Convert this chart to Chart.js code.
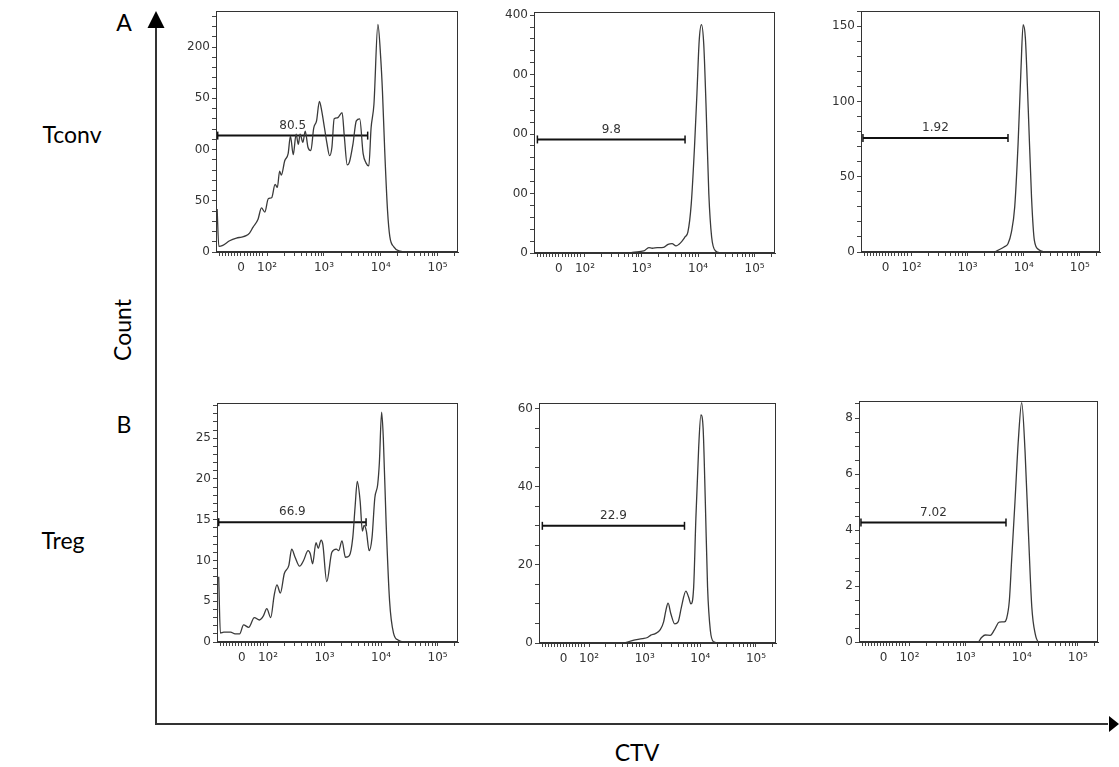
<!DOCTYPE html>
<html>
<head>
<meta charset="utf-8">
<script src="https://cdn.jsdelivr.net/npm/chart.js@4.4.1/dist/chart.umd.min.js"></script>
<style>
  body { margin: 0; background: #fff; }
  #fig { position: relative; width: 1119px; height: 767px; overflow: hidden; font-family: Lato, "Open Sans", sans-serif; }
  .lbl { position: absolute; font-size: 23px; color: #000; line-height: 1; white-space: nowrap; transform: translate(-50%, -50%); }
  canvas { position: absolute; }
</style>
</head>
<body>
<div id="fig">
  <svg width="1119" height="767" style="position:absolute;left:0;top:0">
    <line x1="156" y1="725" x2="156" y2="24" stroke="#333" stroke-width="2"/>
    <polygon points="156,11 147.5,28 164.5,28" fill="#000"/>
    <line x1="155" y1="724" x2="1108" y2="724" stroke="#333" stroke-width="2"/>
    <polygon points="1119,724 1109,716 1109,732" fill="#000"/>
  </svg>
  <div class="lbl" style="left:124px;top:22px">A</div>
  <div class="lbl" style="left:72px;top:134px">Tconv</div>
  <div class="lbl" style="left:122px;top:330px;transform:translate(-50%,-50%) rotate(-90deg)">Count</div>
  <div class="lbl" style="left:124px;top:424px">B</div>
  <div class="lbl" style="left:63px;top:540px">Treg</div>
  <div class="lbl" style="left:637px;top:752px">CTV</div>
</div>
<script>
// CTV axis is in "decade" units (log10 of intensity, linear near zero)
const xTickMajor = [1.54, 2, 3, 4, 5];
const xTickText = ['0', '10\u00b2', '10\u00b3', '10\u2074', '10\u2075'];

// Tconv, A row
const tconv1X = [1.12,1.15,1.22,1.34,1.46,1.55,1.63,1.69,1.75,1.84,1.90,1.96,2.02,2.08,2.14,2.18,2.22,2.25,2.31,2.37,2.41,2.46,2.51,2.55,2.58,2.63,2.67,2.72,2.77,2.82,2.87,2.92,2.96,3.01,3.05,3.10,3.14,3.18,3.24,3.32,3.36,3.41,3.45,3.51,3.57,3.63,3.69,3.74,3.79,3.83,3.88,3.95,4.00,4.03,4.07,4.12,4.16,4.23,4.32,4.47,5.37];
const tconv1Y = [42,5.5,6.5,11,13.6,14.6,16,18.5,24,32,43,39,52,53,66,63,79,75,89,96,113,95,115,105,115,107,118,102,99,121,128,147,138,121,107,94,102,130,131,136,112,85,88,105,128,130,96,87,84,121,144,222,189,157,99,40,15,5,1,0,0];

const tconv2X = [1.10,2.81,2.84,3.04,3.13,3.19,3.28,3.39,3.47,3.54,3.61,3.69,3.77,3.82,3.88,3.94,3.98,4.02,4.06,4.10,4.14,4.19,4.24,4.31,4.39,4.48,5.37];
const tconv2Y = [0,0,1,3.4,9,8,9,9.5,14.6,15.7,12,17,27,35,83,184,268,357,384,352,251,100,27,3.4,0.5,0,0];

const tconv3X = [1.10,3.47,3.56,3.65,3.72,3.78,3.84,3.90,3.95,3.99,4.03,4.08,4.14,4.19,4.27,4.35,4.44,5.37];
const tconv3Y = [0,0,1.5,3.3,5.5,13,30,72,120,151,142,96,36,7.7,1.5,0.2,0,0];

// Treg, B row
const treg1X = [1.13,1.16,1.22,1.34,1.42,1.50,1.57,1.66,1.76,1.85,1.92,1.98,2.05,2.11,2.16,2.22,2.29,2.37,2.42,2.48,2.56,2.63,2.71,2.75,2.79,2.85,2.89,2.94,2.97,3.04,3.13,3.21,3.25,3.31,3.37,3.44,3.50,3.54,3.58,3.63,3.67,3.70,3.74,3.79,3.84,3.89,3.94,3.97,4.01,4.04,4.09,4.15,4.22,4.31,4.39,5.37];
const treg1Y = [8,1.1,1.2,1.2,1,1,2.1,1.8,3,2.7,3.2,4.1,3,5.7,7,6,8.4,9.4,11.4,10.4,9.3,10,11.2,10.8,9.6,12.2,11.5,12.5,12,7.4,11,11.4,11.2,12.4,10.4,10.6,12.8,16.5,19.7,17.3,13.6,14.3,13.6,11.2,12.8,17.7,19.3,22,28.2,25,14.5,5.1,1.1,0.2,0,0];

const treg2X = [1.10,2.61,2.79,2.96,3.05,3.11,3.19,3.28,3.34,3.38,3.42,3.47,3.54,3.60,3.66,3.74,3.79,3.83,3.88,3.92,3.97,4.01,4.05,4.09,4.13,4.18,4.24,4.33,5.37];
const treg2Y = [0,0,0.7,1.1,1.4,2,2.4,3.4,5.4,8.3,10.2,7.5,4.9,5.4,9.2,13.3,11.7,10,14.3,32,50,58.4,55,36,14.3,3.2,0.3,0,0];

const treg3X = [1.10,3.22,3.28,3.35,3.44,3.51,3.60,3.69,3.73,3.78,3.82,3.88,3.94,4.00,4.06,4.12,4.18,4.24,4.31,4.39,5.37];
const treg3Y = [0,0,0.15,0.25,0.24,0.42,0.71,0.72,0.83,1.48,2.9,5.0,7.2,8.55,6.8,3.9,1.25,0.3,0,0,0];

// gates: start, end, height, percentage
const gateStart = [1.13, 1.16, 1.135, 1.13, 1.16, 1.135];
const gateEnd = [3.77, 3.77, 3.72, 3.735, 3.715, 3.72];
const gateLevel = [113.6, 191, 75.8, 14.7, 30, 4.27];
const gateText = ['80.5', '9.8', '1.92', '66.9', '22.9', '7.02'];

// count axes
const yMax = [235, 405, 160, 29.3, 61.4, 8.6];
const yMinorStep = [10, 20, 10, 1, 5, 0.5];
const yMajorStep = [50, 100, 50, 5, 20, 2];
// labels that are cut off in the original panels
const yCutLabels = [{100: '00', 150: '50'}, {100: '00', 200: '00', 300: '00'}, {}, {}, {}, {}];

const seriesX = [tconv1X, tconv2X, tconv3X, treg1X, treg2X, treg3X];
const seriesY = [tconv1Y, tconv2Y, tconv3Y, treg1Y, treg2Y, treg3Y];

// plot boxes on the page: left, top, right, bottom
const boxes = [
  [216, 10, 458, 252], [534, 11, 775, 253], [861, 10, 1100, 252],
  [217, 402, 458, 642], [539, 402, 776, 643], [859, 400, 1098, 642]
];

const X_MIN = 1.1, X_MAX = 5.36;
const Y_AXIS_W = 36, X_AXIS_H = 28, PAD_T = 8, PAD_R = 8;

Chart.defaults.font.family = 'DejaVu Sans';

// minor ticks of the CTV axis
const xTicks = xTickMajor.slice();
for (let i = 1; i <= 7; i++) { xTicks.push(1.54 - i * 0.055); xTicks.push(1.54 + i * 0.055); }
for (let d = 2; d <= 5; d++) {
  for (let k = 2; k <= 9; k++) {
    const v = d + Math.log10(k);
    if (v < X_MAX) xTicks.push(v);
  }
}
xTicks.sort((a, b) => a - b);

const boxPlugin = {
  id: 'box',
  afterDatasetsDraw(chart) {
    const a = chart.chartArea, c = chart.ctx;
    c.save();
    c.strokeStyle = '#333';
    c.lineWidth = 1;
    c.strokeRect(Math.round(a.left) + 0.5, Math.round(a.top) + 0.5, Math.round(a.right - a.left) - 1, Math.round(a.bottom - a.top) - 1);
    c.restore();
  }
};

const gatePlugin = {
  id: 'gateText',
  afterDatasetsDraw(chart, args, opts) {
    const c = chart.ctx;
    const px = chart.scales.x.getPixelForValue((opts.x0 + opts.x1) / 2);
    const py = chart.scales.y.getPixelForValue(opts.y) - 10;
    c.save();
    c.fillStyle = '#333';
    c.font = '12px "DejaVu Sans"';
    c.textAlign = 'center';
    c.textBaseline = 'middle';
    c.fillText(opts.text, px, py);
    c.restore();
  }
};

const fig = document.getElementById('fig');

function makeChart(i) {
  const [L, T, R, B] = boxes[i];
  const w = R - L + Y_AXIS_W + PAD_R;
  const h = B - T + PAD_T + X_AXIS_H;
  const cv = document.createElement('canvas');
  cv.width = w; cv.height = h;
  cv.style.left = (L - Y_AXIS_W) + 'px';
  cv.style.top = (T - PAD_T) + 'px';
  cv.style.width = w + 'px';
  cv.style.height = h + 'px';
  fig.appendChild(cv);

  const yTicks = [];
  for (let v = 0; v <= yMax[i] + 1e-9; v += yMinorStep[i]) yTicks.push(Math.round(v * 1000) / 1000);

  new Chart(cv, {
    type: 'line',
    data: {
      datasets: [
        {
          data: seriesX[i].map((x, j) => ({x: x, y: seriesY[i][j]})),
          borderColor: '#3a3a3a',
          borderWidth: 1.3,
          pointRadius: 0,
          cubicInterpolationMode: 'monotone',
          fill: false
        },
        {
          data: [{x: gateStart[i], y: gateLevel[i]}, {x: gateEnd[i], y: gateLevel[i]}],
          borderColor: '#111',
          borderWidth: 2,
          pointStyle: 'line',
          rotation: 90,
          pointRadius: 4,
          pointBorderWidth: 1.5,
          pointBorderColor: '#111',
          clip: false
        }
      ]
    },
    options: {
      responsive: false,
      animation: false,
      devicePixelRatio: 1,
      layout: {padding: {top: PAD_T, right: PAD_R, left: 0, bottom: 0}},
      plugins: {
        legend: {display: false},
        tooltip: {enabled: false},
        gateText: {text: gateText[i], x0: gateStart[i], x1: gateEnd[i], y: gateLevel[i]}
      },
      scales: {
        x: {
          type: 'linear', min: X_MIN, max: X_MAX,
          afterBuildTicks: s => { s.ticks = xTicks.map(v => ({value: v})); },
          afterFit: s => { s.height = X_AXIS_H; },
          ticks: {
            autoSkip: false, maxRotation: 0, minRotation: 0, padding: 5,
            color: '#333', font: {size: 12},
            callback: v => {
              const k = xTickMajor.findIndex(m => Math.abs(m - v) < 1e-6);
              return k >= 0 ? xTickText[k] : '';
            }
          },
          grid: {drawOnChartArea: false, drawTicks: true, tickLength: 4, color: '#444'},
          border: {display: true, color: '#333'}
        },
        y: {
          type: 'linear', min: 0, max: yMax[i],
          afterBuildTicks: s => { s.ticks = yTicks.map(v => ({value: v})); },
          afterFit: s => { s.width = Y_AXIS_W; },
          ticks: {
            autoSkip: false, padding: 2, color: '#333', font: {size: 12},
            callback: v => {
              const r = v / yMajorStep[i];
              if (Math.abs(r - Math.round(r)) > 1e-6) return '';
              return yCutLabels[i][v] !== undefined ? yCutLabels[i][v] : String(v);
            }
          },
          grid: {drawOnChartArea: false, drawTicks: true, tickLength: 4, color: '#444'},
          border: {display: true, color: '#333'}
        }
      }
    },
    plugins: [boxPlugin, gatePlugin]
  });
}

for (let i = 0; i < 6; i++) makeChart(i);
</script>
</body>
</html>
